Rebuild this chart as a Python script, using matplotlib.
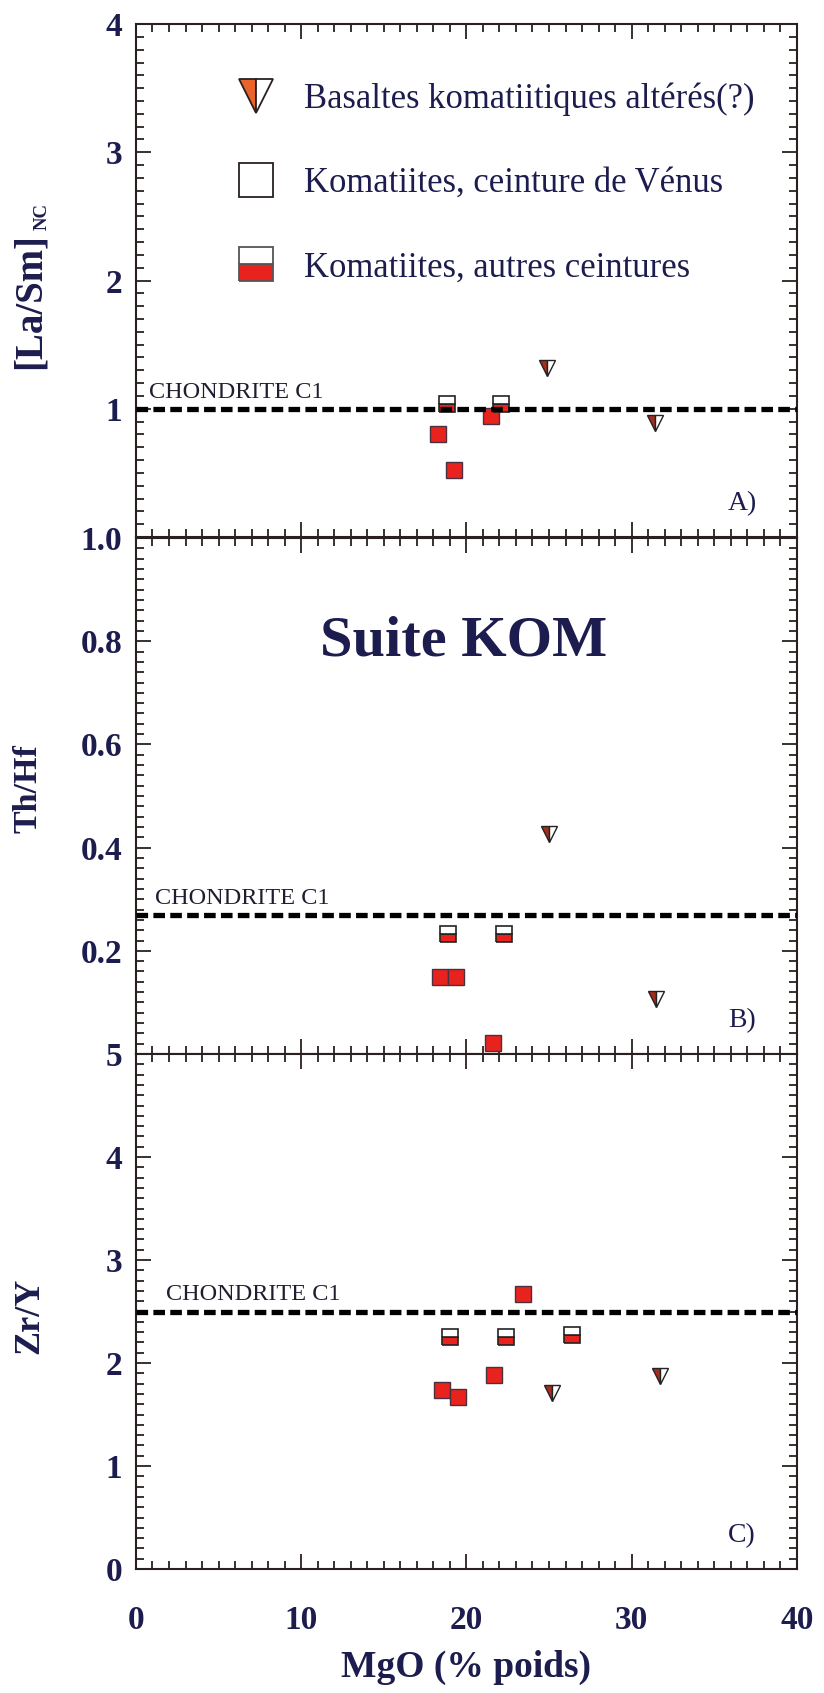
import matplotlib
matplotlib.use('Agg')
import matplotlib.pyplot as plt
from matplotlib.lines import Line2D
from matplotlib.ticker import MultipleLocator

plt.rcParams['font.family'] = ['Liberation Serif', 'DejaVu Serif']

# ---------------- data ----------------
legend_labels = ['Basaltes komatiitiques altérés(?)',
                 'Komatiites, ceinture de Vénus',
                 'Komatiites, autres ceintures']

# Panel A : [La/Sm]NC
basalt_mgo_A = [24.9, 31.4]
basalt_A = [1.32, 0.89]
venus_mgo_A = [18.8, 22.1]
venus_A = [1.04, 1.04]
autres_mgo_A = [21.5, 18.3, 19.25]
autres_A = [0.94, 0.80, 0.52]

# Panel B : Th/Hf
basalt_mgo_B = [25.0, 31.5]
basalt_B = [0.426, 0.107]
venus_mgo_B = [18.9, 22.3]
venus_B = [0.232, 0.232]
autres_mgo_B = [18.4, 19.4, 21.6]
autres_B = [0.149, 0.149, 0.021]

# Panel C : Zr/Y
basalt_mgo_C = [25.2, 31.7]
basalt_C = [1.71, 1.87]
venus_mgo_C = [19.0, 22.4, 26.4]
venus_C = [2.255, 2.255, 2.27]
autres_mgo_C = [23.4, 18.5, 19.5, 21.7]
autres_C = [2.67, 1.74, 1.67, 1.88]

chondrite = [1.0, 0.27, 2.5]
chondrite_label = 'CHONDRITE C1'
panel_tags = ['A)', 'B)', 'C)']

xticks = [0, 10, 20, 30, 40]
xticklabels = ['0', '10', '20', '30', '40']
yticks_A = [0, 1, 2, 3, 4]
yticklabels_A = ['', '1', '2', '3', '4']
yticks_B = [0, 0.2, 0.4, 0.6, 0.8, 1.0]
yticklabels_B = ['', '0.2', '0.4', '0.6', '0.8', '1.0']
yticks_C = [0, 1, 2, 3, 4, 5]
yticklabels_C = ['0', '1', '2', '3', '4', '5']

ylabel_A = '[La/Sm]'
ylabel_A_sub = 'NC'
ylabel_B = 'Th/Hf'
ylabel_C = 'Zr/Y'
xlabel = 'MgO (% poids)'
title_B = 'Suite KOM'

# ---------------- style ----------------
NAVY = '#1c1c4e'
RED = '#e8231d'
TRI = '#a82c1c'
TRI_LEG = '#e8642a'
EDGE = '#2a2020'

fig = plt.figure(figsize=(8.24, 16.93), dpi=100)
left, width = 0.165, 0.802
axA = fig.add_axes([left, 0.6828, width, 0.3030])
axB = fig.add_axes([left, 0.3774, width, 0.3048])
axC = fig.add_axes([left, 0.0732, width, 0.3042])


def style(ax, yt, yl, ymax, minor, show_x):
    ax.set_xlim(0, 40)
    ax.set_ylim(0, ymax)
    ax.set_xticks(xticks)
    ax.set_xticklabels(xticklabels)
    ax.xaxis.set_minor_locator(MultipleLocator(1))
    ax.set_yticks(yt)
    ax.set_yticklabels(yl)
    ax.yaxis.set_minor_locator(MultipleLocator(minor))
    ax.tick_params(which='both', direction='in', top=True, right=True,
                   color=EDGE, width=1.3)
    ax.tick_params(which='major', length=11)
    ax.tick_params(which='minor', length=5.5)
    ax.tick_params(axis='y', labelsize=24, labelcolor=NAVY, pad=10)
    ax.tick_params(axis='x', labelsize=24, labelcolor=NAVY, pad=26,
                   labelbottom=show_x)
    for lab in ax.get_yticklabels() + ax.get_xticklabels():
        lab.set_fontweight('bold')
    for s in ax.spines.values():
        s.set_linewidth(1.5)
        s.set_color(EDGE)


def plot_panel(ax, bx, by, vx, vy, ox, oy, chond, chond_x, tag):
    ax.plot(ox, oy, ls='none', marker='s', ms=11, mfc=RED, mec='#4a3040',
            mew=1.0, zorder=2)
    ax.plot(vx, vy, ls='none', marker='s', ms=11, fillstyle='bottom',
            mfc=RED, mfcalt='white', mec='#222222', mew=1.2, zorder=2)
    ax.plot(bx, by, ls='none', marker='v', ms=11.5, fillstyle='left',
            mfc=TRI, mfcalt='white', mec='#222222', mew=1.0, zorder=2)
    ax.axhline(chond, color='black', lw=3.8, ls=(0, (2.2, 1.0)), zorder=3)
    ax.annotate(chondrite_label, xy=(chond_x, chond), xytext=(0, 8),
                textcoords='offset points', va='baseline', ha='left',
                fontsize=17.5, color='#1e1e30')
    ax.text(0.917, 0.065, tag, transform=ax.transAxes, ha='center',
            va='center', fontsize=20, color=NAVY)


style(axA, yticks_A, yticklabels_A, 4, 0.1, False)
style(axB, yticks_B, yticklabels_B, 1.0, 0.02, False)
style(axC, yticks_C, yticklabels_C, 5, 0.1, True)

plot_panel(axA, basalt_mgo_A, basalt_A, venus_mgo_A, venus_A,
           autres_mgo_A, autres_A, chondrite[0], 0.8, panel_tags[0])
plot_panel(axB, basalt_mgo_B, basalt_B, venus_mgo_B, venus_B,
           autres_mgo_B, autres_B, chondrite[1], 1.15, panel_tags[1])
plot_panel(axC, basalt_mgo_C, basalt_C, venus_mgo_C, venus_C,
           autres_mgo_C, autres_C, chondrite[2], 1.8, panel_tags[2])

axA.set_ylabel(ylabel_A, fontsize=28, fontweight='bold', color=NAVY,
               va='center')
axA.yaxis.set_label_coords(-0.160, 0.459)
axA.text(-0.142, 0.625, ylabel_A_sub, transform=axA.transAxes,
         rotation=90, ha='center', va='center', fontsize=13.5,
         fontweight='bold', color=NAVY)

axB.set_ylabel(ylabel_B, fontsize=24.5, fontweight='bold', color=NAVY,
               va='center')
axB.yaxis.set_label_coords(-0.163, 0.514)
axC.set_ylabel(ylabel_C, fontsize=26, fontweight='bold', color=NAVY,
               va='center')
axC.yaxis.set_label_coords(-0.160, 0.491)

axC.set_xlabel(xlabel, fontsize=27, fontweight='bold', color=NAVY,
               labelpad=10)

axB.text(0.495, 0.80, title_B, transform=axB.transAxes, ha='center',
         va='center', fontsize=42, fontweight='bold', color=NAVY)

h1 = Line2D([], [], ls='none', marker='v', ms=24.5, fillstyle='left',
            mfc=TRI_LEG, mfcalt='white', mec=EDGE, mew=1.3)
h2 = Line2D([], [], ls='none', marker='s', ms=24, mfc='white', mec=EDGE,
            mew=1.3)
h3 = Line2D([], [], ls='none', marker='s', ms=24, fillstyle='bottom',
            mfc=RED, mfcalt='white', mec='#555555', mew=1.3)
leg = axA.legend([h1, h2, h3], legend_labels, loc='upper left',
                 bbox_to_anchor=(0.155, 0.886), frameon=False, fontsize=24.9,
                 handlelength=1.0, handletextpad=0.89, labelspacing=1.48,
                 borderpad=0, borderaxespad=0, numpoints=1)
for t in leg.get_texts():
    t.set_color(NAVY)

fig.savefig('out.png', dpi=100)
